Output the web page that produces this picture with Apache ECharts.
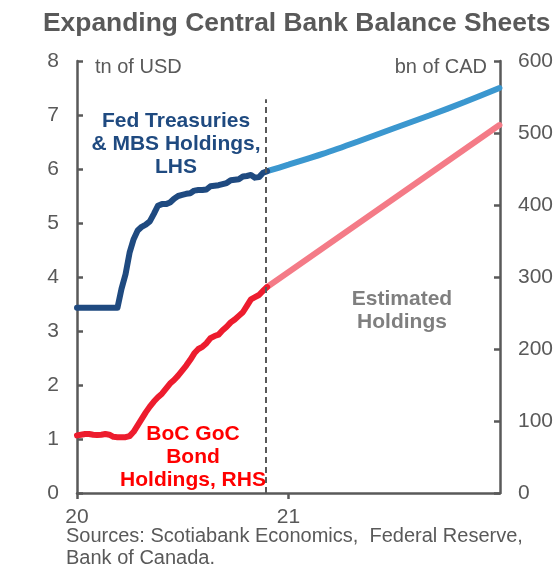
<!DOCTYPE html>
<html>
<head>
<meta charset="utf-8">
<script src="https://cdn.jsdelivr.net/npm/echarts@6/dist/echarts.min.js"></script>
<style>
  html, body { margin: 0; padding: 0; background: #fff; }
  #chart { width: 560px; height: 569px; }
</style>
</head>
<body>
<div id="chart"></div>
<script>
// Fed Treasuries & MBS holdings, weekly (tn of USD, left axis)
const fedDates = [
  '2020-01-01','2020-01-08','2020-01-15','2020-01-22','2020-01-29','2020-02-05','2020-02-12','2020-02-19','2020-02-26',
  '2020-03-04','2020-03-11','2020-03-18','2020-03-25','2020-04-01','2020-04-08','2020-04-15','2020-04-22','2020-04-29',
  '2020-05-06','2020-05-13','2020-05-20','2020-05-27','2020-06-03','2020-06-10','2020-06-17','2020-06-24',
  '2020-07-01','2020-07-08','2020-07-15','2020-07-22','2020-07-29','2020-08-05','2020-08-12','2020-08-19','2020-08-26',
  '2020-09-02','2020-09-09','2020-09-16','2020-09-23','2020-09-30','2020-10-07','2020-10-14','2020-10-21','2020-10-28',
  '2020-11-04','2020-11-11','2020-11-18','2020-11-25'
];
const fedHoldings = [
  3.43, 3.43, 3.43, 3.43, 3.43, 3.43, 3.43, 3.43, 3.43,
  3.43, 3.43, 3.78, 4.05, 4.45, 4.70, 4.86, 4.93, 4.97,
  5.03, 5.17, 5.32, 5.35, 5.35, 5.38, 5.45, 5.50,
  5.52, 5.54, 5.55, 5.60, 5.61, 5.61, 5.62, 5.68, 5.69,
  5.70, 5.72, 5.74, 5.79, 5.80, 5.81, 5.86, 5.87, 5.89,
  5.84, 5.85, 5.93, 5.96
];

// BoC GoC bond holdings, weekly (bn of CAD, right axis) on the same dates
const bocHoldings = [
  80, 81, 82, 82, 81, 80.5, 81, 82, 81,
  78, 77.5, 77.5, 77.5, 79, 85, 94, 103, 112,
  120, 127, 133, 138, 145, 152, 157, 163,
  170, 177, 185, 194, 200, 203, 208, 215, 218,
  220, 226, 231, 237, 241, 246, 251, 260, 269,
  272, 275, 281, 286
];

// Estimated holdings through end-2021
const fedEstDates = ['2020-11-25','2021-01-01','2021-03-01','2021-05-01','2021-07-01','2021-09-01','2021-11-01','2021-12-31'];
const fedEstimated = [5.96, 6.08, 6.28, 6.51, 6.75, 6.99, 7.24, 7.50];
const bocEstDates = ['2020-11-25','2021-12-31'];
const bocEstimated = [286, 511];

// Boundary between reported and estimated data
const cutoffDate = '2020-11-23';

const xTickLabels = ['20', '21'];
const leftTicks = { min: 0, max: 8, interval: 1 };
const rightTicks = { min: 0, max: 600, interval: 100 };

// Dates are placed on a continuous decimal-year axis
function decYear(s) {
  const [y, m, d] = s.split('-').map(Number);
  const start = Date.UTC(y, 0, 1), end = Date.UTC(y + 1, 0, 1);
  return y + (Date.UTC(y, m - 1, d) - start) / (end - start);
}
const pairs = (dates, vals) => dates.map((d, i) => [decYear(d), vals[i]]);

const FONT = "'Liberation Sans', Arial, sans-serif";
const GREY = '#595959';

const chart = echarts.init(document.getElementById('chart'), null, { renderer: 'canvas' });

chart.setOption({
  animation: false,
  backgroundColor: '#fff',
  title: {
    text: 'Expanding Central Bank Balance Sheets',
    left: 38, top: 6,
    textStyle: { fontFamily: FONT, fontSize: 26.4, fontWeight: 'bold', color: GREY }
  },
  grid: { left: 77, right: 60, top: 61, bottom: 76 },
  xAxis: {
    type: 'value', min: 2020, max: 2022, interval: 1,
    axisLine: { lineStyle: { color: GREY, width: 2.5 } },
    axisTick: { show: true, inside: false, length: 6, lineStyle: { color: GREY, width: 2.5 }, customValues: [2020, 2021] },
    axisLabel: {
      customValues: [2020, 2021],
      formatter: v => xTickLabels[Math.round(v) - 2020] || '',
      color: GREY, fontFamily: FONT, fontSize: 21, margin: 14
    },
    splitLine: { show: false }
  },
  yAxis: [
    {
      type: 'value', position: 'left', ...leftTicks,
      axisLine: { show: true, lineStyle: { color: GREY, width: 2.5 } },
      axisTick: { show: true, inside: true, length: 6, lineStyle: { color: GREY, width: 2.5 } },
      axisLabel: { color: GREY, fontFamily: FONT, fontSize: 21, margin: 18 },
      splitLine: { show: false }
    },
    {
      type: 'value', position: 'right', ...rightTicks,
      axisLine: { show: true, lineStyle: { color: GREY, width: 2.5 } },
      axisTick: { show: true, inside: true, length: 6, lineStyle: { color: GREY, width: 2.5 } },
      axisLabel: { color: GREY, fontFamily: FONT, fontSize: 21, margin: 18 },
      splitLine: { show: false }
    }
  ],
  series: [
    {
      name: 'Fed estimated', type: 'line', yAxisIndex: 0, smooth: 0.3,
      data: pairs(fedEstDates, fedEstimated), showSymbol: false,
      lineStyle: { color: '#3B97CF', width: 6, cap: 'round' }, z: 2
    },
    {
      name: 'BoC estimated', type: 'line', yAxisIndex: 1,
      data: pairs(bocEstDates, bocEstimated), showSymbol: false,
      lineStyle: { color: '#F47B87', width: 6, cap: 'round' }, z: 2
    },
    {
      name: 'Fed Treasuries & MBS', type: 'line', yAxisIndex: 0,
      data: pairs(fedDates, fedHoldings), showSymbol: false,
      lineStyle: { color: '#1F4A80', width: 6, cap: 'round', join: 'round' }, z: 3
    },
    {
      name: 'BoC GoC bonds', type: 'line', yAxisIndex: 1,
      data: pairs(fedDates, bocHoldings), showSymbol: false,
      lineStyle: { color: '#ED1C2E', width: 6, cap: 'round', join: 'round' }, z: 3,
      markLine: {
        silent: true, symbol: ['none', 'none'],
        label: { show: false },
        lineStyle: { color: GREY, type: [6, 4], width: 2 },
        data: [[{ coord: [decYear(cutoffDate), 0] }, { coord: [decYear(cutoffDate), 547] }]]
      }
    }
  ],
  graphic: [
    { type: 'text', left: 95, top: 57,
      style: { text: 'tn of USD', font: `20px ${FONT}`, fill: GREY } },
    { type: 'text', right: 73, top: 57,
      style: { text: 'bn of CAD', font: `20px ${FONT}`, fill: GREY, align: 'right' } },
    { type: 'text', x: 176, y: 110,
      style: { text: 'Fed Treasuries\n& MBS Holdings,\nLHS', font: `bold 21px ${FONT}`, fill: '#1F4A80',
               align: 'center', lineHeight: 23 } },
    { type: 'text', x: 193, y: 423,
      style: { text: 'BoC GoC\nBond\nHoldings, RHS', font: `bold 21px ${FONT}`, fill: '#FF0000',
               align: 'center', lineHeight: 23 } },
    { type: 'text', x: 402, y: 288,
      style: { text: 'Estimated\nHoldings', font: `bold 21px ${FONT}`, fill: '#7F7F7F',
               align: 'center', lineHeight: 23 } },
    { type: 'text', x: 66, y: 525,
      style: { text: 'Sources: Scotiabank Economics,  Federal Reserve,\nBank of Canada.', font: `20px ${FONT}`,
               fill: GREY, lineHeight: 22 } }
  ]
});
</script>
</body>
</html>
